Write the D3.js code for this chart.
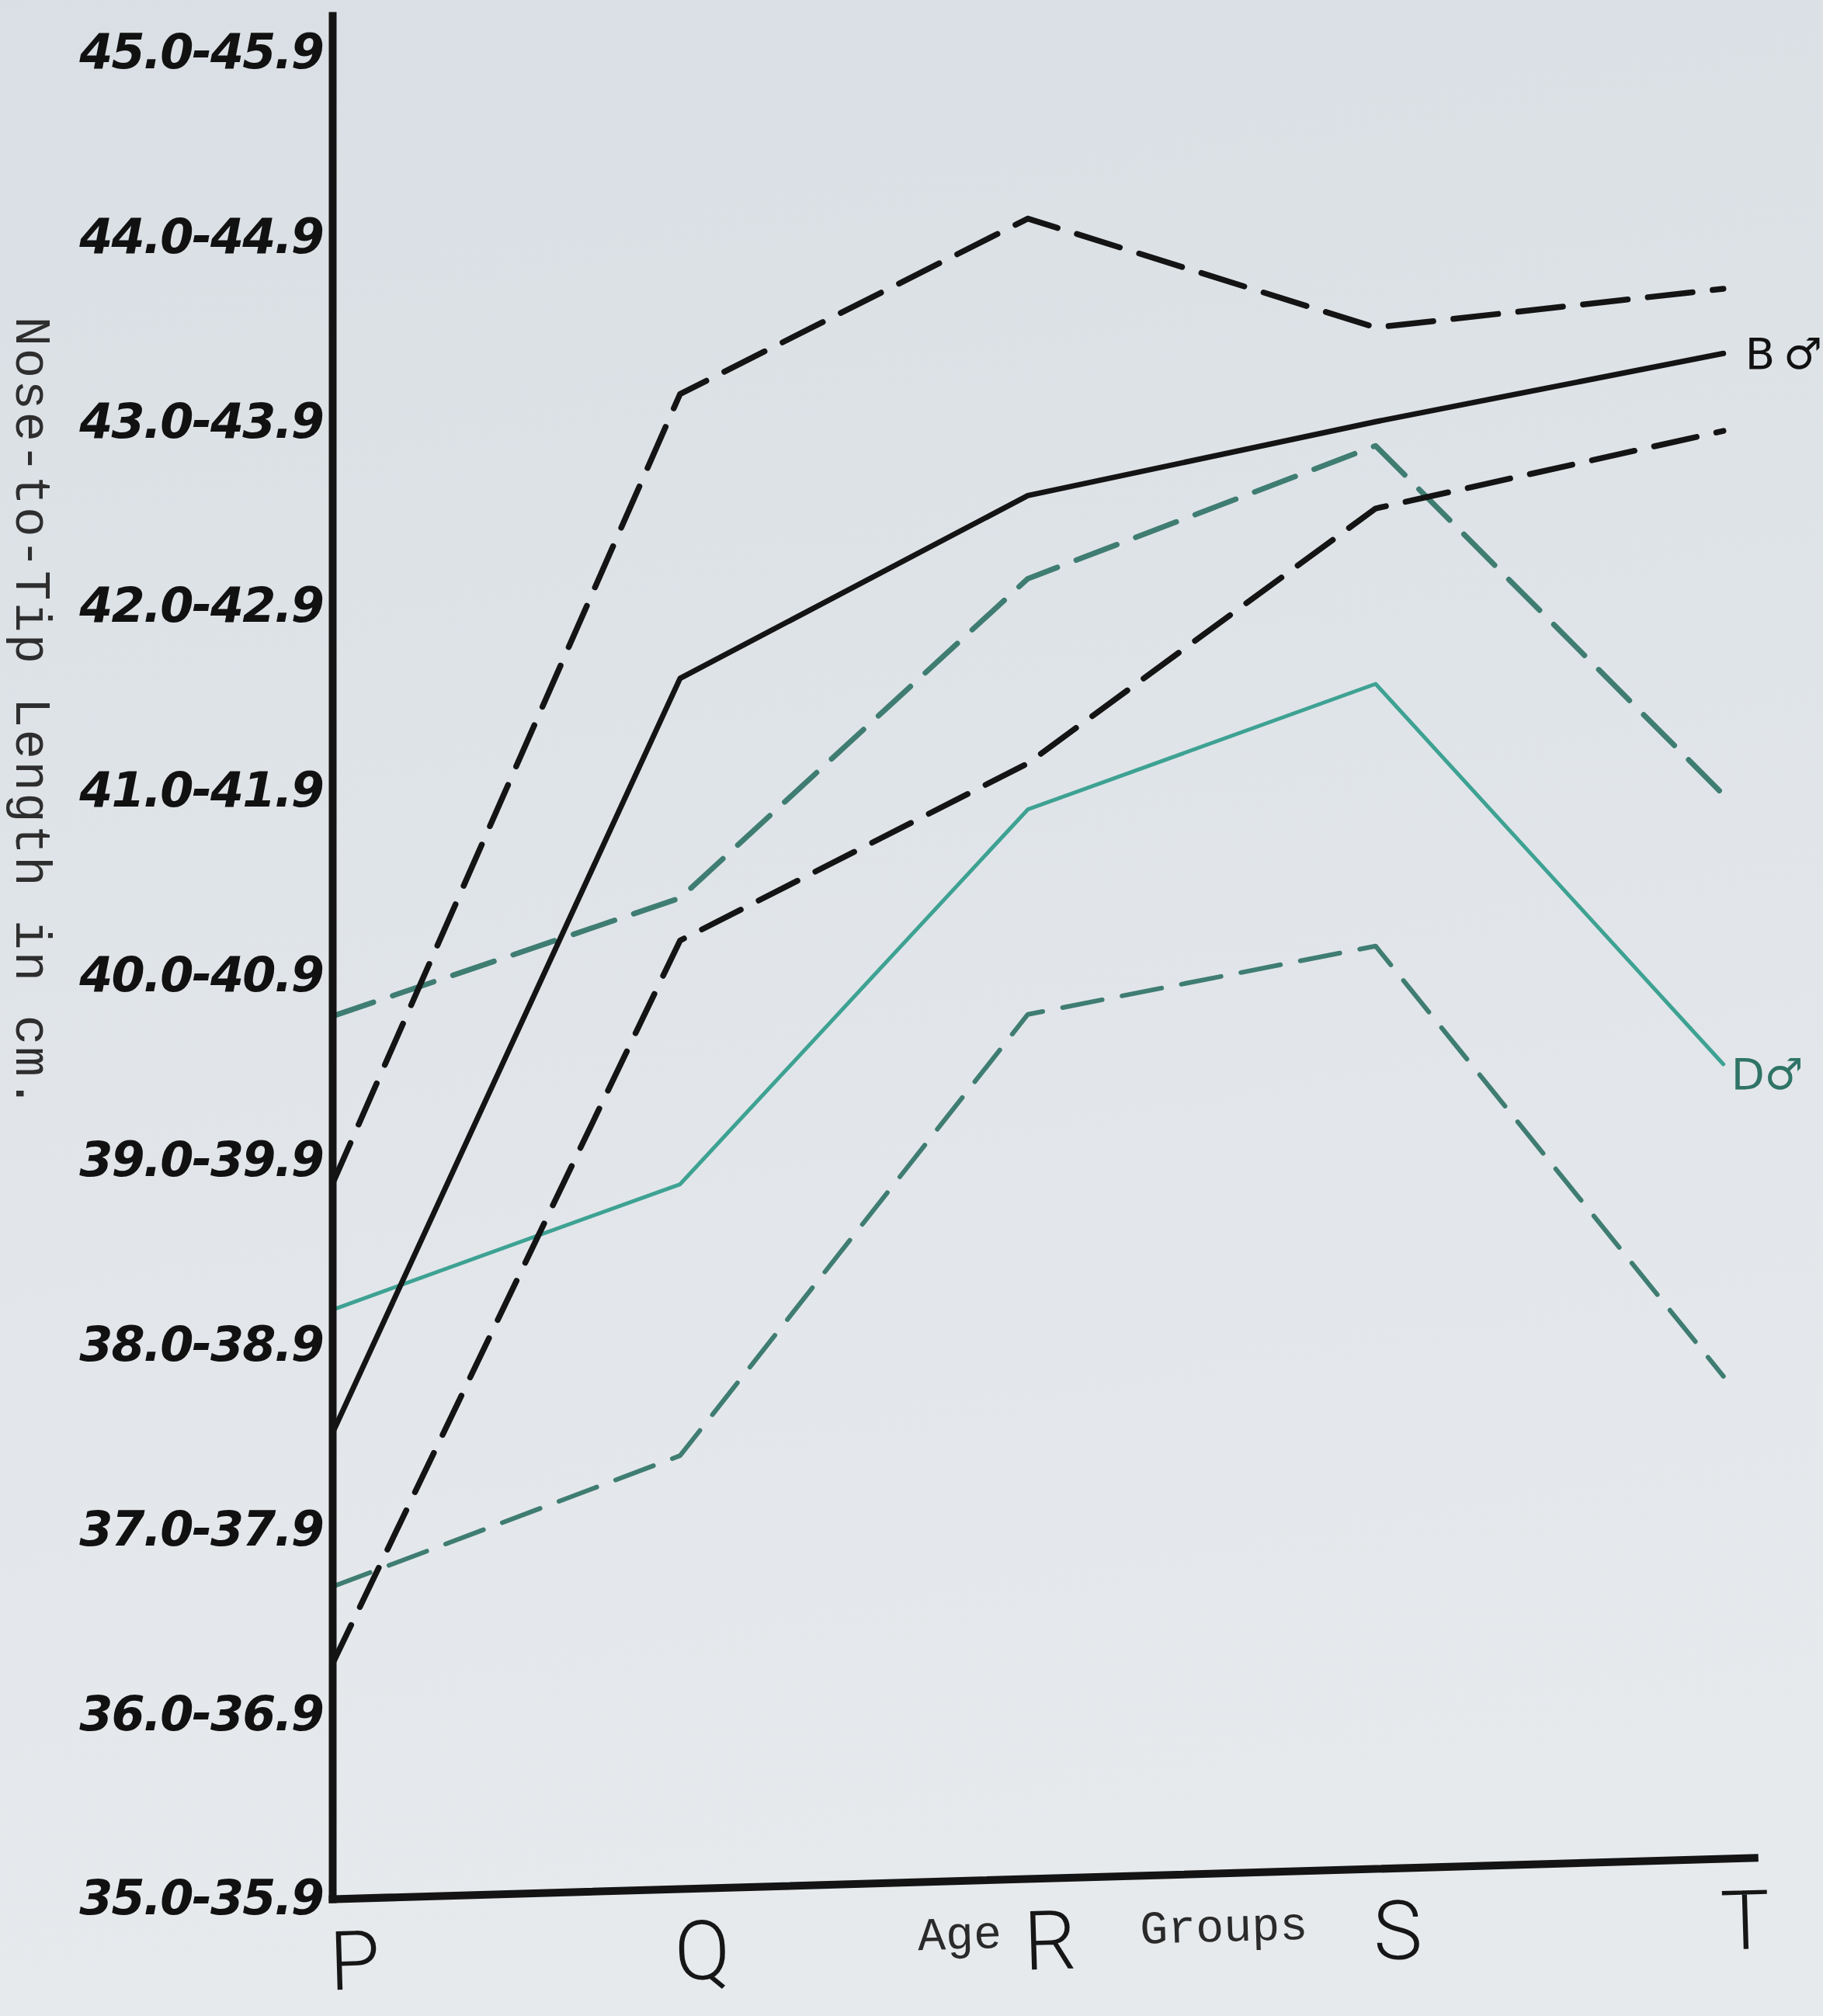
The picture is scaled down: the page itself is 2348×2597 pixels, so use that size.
<!DOCTYPE html>
<html>
<head>
<meta charset="utf-8">
<script src="https://cdn.jsdelivr.net/npm/d3@7"></script>
<style>
  html, body { margin: 0; padding: 0; background: #e0e5e9; }
  svg { display: block; }
</style>
</head>
<body>
<svg id="chart" width="2348" height="2597"></svg>
<script>
// ---------- data ----------
const categories = ["P", "Q", "R", "S", "T"];
const yTickValues = [35, 36, 37, 38, 39, 40, 41, 42, 43, 44, 45];
const yTickLabels = ["35.0-35.9", "36.0-36.9", "37.0-37.9", "38.0-38.9", "39.0-39.9",
                     "40.0-40.9", "41.0-41.9", "42.0-42.9", "43.0-43.9", "44.0-44.9", "45.0-45.9"];
// B ♂ (black)
const bMean  = [37.52, 41.61, 42.60, 43.00, 43.37];
const bUpper = [38.87, 43.15, 44.10, 43.51, 43.72];
const bLower = [36.27, 40.19, 41.15, 42.53, 42.95];
// D ♂ (teal)
const dMean  = [38.19, 38.87, 40.90, 41.58, 39.52];
const dUpper = [39.78, 40.42, 42.15, 42.87, 40.98];
const dLower = [36.69, 37.40, 39.79, 40.16, 37.83];

const yTitle = "Nose-to-Tip Length in cm.";
const xTitleA = "Age";
const xTitleB = "Groups";

// ---------- setup ----------
const W = 2348, H = 2597;
const svg = d3.select("#chart");

const defs = svg.append("defs");
const grad = defs.append("linearGradient").attr("id", "paper")
  .attr("x1", 0).attr("y1", 0).attr("x2", 0.15).attr("y2", 1);
grad.append("stop").attr("offset", "0%").attr("stop-color", "#d9dfe4");
grad.append("stop").attr("offset", "55%").attr("stop-color", "#e1e5e9");
grad.append("stop").attr("offset", "100%").attr("stop-color", "#e7eaed");
svg.append("rect").attr("width", W).attr("height", H).attr("fill", "url(#paper)");

const x = d3.scaleLinear().domain([0, 4.09]).range([428, 2260]);
const y = d3.scaleLinear().domain([35, 45.2]).range([2446, 20]);

const line = d3.line().x((d, i) => x(i)).y(d => y(d));

// ---------- series ----------
const BLACK = "#141414";
const TEAL_SOLID = "#3ea293";
const TEAL_DASH = "#3f7d72";

const series = [
  { values: dLower, color: TEAL_DASH, width: 6, dash: "52,26" },
  { values: dUpper, color: TEAL_DASH, width: 7, dash: "56,26" },
  { values: dMean,  color: TEAL_SOLID, width: 5, dash: null },
  { values: bLower, color: BLACK, width: 7.5, dash: "56,26" },
  { values: bUpper, color: BLACK, width: 7.5, dash: "58,26" },
  { values: bMean,  color: BLACK, width: 7, dash: null }
];

svg.append("g").selectAll("path").data(series).join("path")
  .attr("d", d => line(d.values))
  .attr("fill", "none")
  .attr("stroke", d => d.color)
  .attr("stroke-width", d => d.width)
  .attr("stroke-linecap", "round")
  .attr("stroke-linejoin", "round")
  .attr("stroke-dasharray", d => d.dash);

// ---------- axes ----------
const yAxis = d3.axisLeft(y)
  .tickValues(yTickValues)
  .tickFormat((d, i) => yTickLabels[i])
  .tickSize(0).tickSizeOuter(0).tickPadding(12);

const gy = svg.append("g")
  .attr("transform", `translate(${x(0)},0)`)
  .call(yAxis);
gy.select(".domain").attr("stroke", BLACK).attr("stroke-width", 10).attr("stroke-linecap", "square");
gy.selectAll("text")
  .attr("fill", "#111")
  .style("font-family", "'DejaVu Sans', sans-serif")
  .style("font-weight", "bold")
  .style("font-style", "italic")
  .style("font-size", "62px")
  .style("letter-spacing", "-2px");

const xAxis = d3.axisBottom(x)
  .tickValues([0, 1, 2, 3, 4])
  .tickFormat(i => categories[i])
  .tickSize(0).tickSizeOuter(0).tickPadding(42);

const gx = svg.append("g")
  .attr("transform", `rotate(-1.66, ${x(0)}, ${y(35)}) translate(0, ${y(35)})`)
  .call(xAxis);
gx.select(".domain").attr("stroke", BLACK).attr("stroke-width", 10).attr("stroke-linecap", "square");
gx.selectAll(".tick text")
  .attr("fill", "#161616")
  .attr("dx", 26)
  .style("font-family", "Roboto, 'DejaVu Sans', sans-serif")
  .style("font-weight", "300")
  .style("font-size", "106px");

// x title (typewriter)
gx.append("text")
  .attr("x", x(1.8)).attr("y", 88)
  .attr("text-anchor", "middle")
  .attr("fill", "#2a2a2a")
  .style("font-family", "'Liberation Mono', 'DejaVu Sans Mono', monospace")
  .style("font-size", "60px")
  .text(xTitleA);
gx.append("text")
  .attr("x", x(2.56)).attr("y", 88)
  .attr("text-anchor", "middle")
  .attr("fill", "#2a2a2a")
  .style("font-family", "'Liberation Mono', 'DejaVu Sans Mono', monospace")
  .style("font-size", "60px")
  .text(xTitleB);

// y title (typewriter, rotated, reading downward)
svg.append("text")
  .attr("transform", `translate(38, ${y(41.42)}) rotate(90)`)
  .attr("text-anchor", "middle")
  .attr("dominant-baseline", "central")
  .attr("fill", "#2e2e2e")
  .style("font-family", "'Liberation Mono', 'DejaVu Sans Mono', monospace")
  .style("font-size", "64px")
  .style("letter-spacing", "2.5px")
  .text(yTitle);

// ---------- series labels ----------
svg.append("text")
  .attr("x", x(4) + 28).attr("y", y(bMean[4]))
  .attr("dy", "0.36em")
  .attr("fill", "#111")
  .style("font-family", "'DejaVu Sans', sans-serif")
  .style("font-size", "56px")
  .text("B\u2009\u2642");

svg.append("text")
  .attr("x", x(4) + 10).attr("y", y(dMean[4]) + 12)
  .attr("dy", "0.36em")
  .attr("fill", "#2f7466")
  .style("font-family", "'DejaVu Sans', sans-serif")
  .style("font-size", "56px")
  .text("D\u2642");
</script>
</body>
</html>
